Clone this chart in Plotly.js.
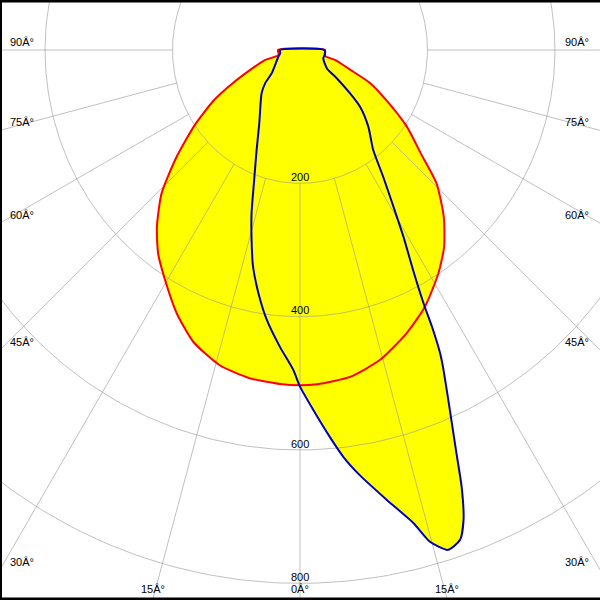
<!DOCTYPE html>
<html><head><meta charset="utf-8">
<script src="https://cdn.plot.ly/plotly-3.0.1.min.js"></script>
<style>html,body{margin:0;padding:0;background:#fff}#chart{width:600px;height:600px}</style>
</head><body><div id="chart"></div>
<script>
// Luminous intensity curves, angle in degrees from nadir (negative = left side)
const redAngles = [-90, -77, -74, -69, -63.8, -59.8, -54.5, -49.1, -44, -39, -34.9, -30.4, -25.1, -20.1, -14.3, -8.7, -3.4, 0, 2.9, 8.7, 14.5, 20.6, 26, 31.8, 36.2, 40.8, 45.7, 49.3, 54.5, 59.8, 64.8, 69, 74, 77, 90];
const redValues = [33, 33, 55, 76, 112, 149, 194, 245, 299, 341, 372, 400, 436, 466, 488, 498, 502, 503, 502, 496, 480, 454, 428, 394, 366, 330, 286, 240, 196, 150, 116, 78, 56, 38, 37];

const blueAngles = [-90, -80.6, -72.8, -50.5, -46.4, -41.5, -29.0, -23.4, -19.4, -16.5, -14.3, -12.2, -9.7, -7.0, -3.9, -1.2, 0, 2.1, 4.4, 6.1, 8.0, 10.9, 13.5, 14.8, 16.5, 18.1, 19.2, 20.3, 21.2, 22.6, 24.3, 24.8, 25.5, 26.0, 27.2, 29.0, 30.8, 33.3, 36.2, 41.7, 46.6, 49.1, 52.4, 55.6, 70.4, 78.7, 90];
const blueValues = [30, 30, 34, 55, 72, 87, 126, 164, 207, 256, 294, 333, 370, 408, 446, 480, 505, 540, 582, 614, 644, 687, 730, 763, 782, 773, 746, 699, 649, 585, 521, 501, 460, 423, 371, 320, 274, 227, 186, 154, 124, 99, 70, 49, 37, 38, 37];

// Grid
const radialTicks = [200, 400, 600, 800];
const radialLabels = ['200', '400', '600', '800'];
const spokeAngles = [-90, -75, -60, -45, -30, -15, 0, 15, 30, 45, 60, 75, 90];
const spokeLabels = ['90\u00C2\u00B0', '75\u00C2\u00B0', '60\u00C2\u00B0', '45\u00C2\u00B0', '30\u00C2\u00B0', '15\u00C2\u00B0', '0\u00C2\u00B0', '15\u00C2\u00B0', '30\u00C2\u00B0', '45\u00C2\u00B0', '60\u00C2\u00B0', '75\u00C2\u00B0', '90\u00C2\u00B0'];

const XR = [-450, 450], YR = [-825, 75];
const U = 1.5; // data units per pixel
const K = 0.956; // horizontal squeeze of the grid rings
const d2r = Math.PI / 180;
function toXY(angles, vals, close) {
  const x = [], y = [];
  for (let i = 0; i < angles.length; i++) {
    x.push(vals[i] * Math.sin(angles[i] * d2r));
    y.push(-vals[i] * Math.cos(angles[i] * d2r));
  }
  if (close) { x.push(x[0]); y.push(y[0]); }
  return {x, y};
}
const red = toXY(redAngles, redValues, true);
const blue = toXY(blueAngles, blueValues, true);

const gridColor = 'rgba(150,150,150,0.6)';
const cx = [], cy = [];
radialTicks.forEach(r => {
  for (let a = 0; a <= 360; a += 1) { cx.push(K * r * Math.sin(a * d2r)); cy.push(r * Math.cos(a * d2r)); }
  cx.push(null); cy.push(null);
});
const sx = [], sy = [];
spokeAngles.forEach(a => {
  const s = Math.sin(a * d2r), c = Math.cos(a * d2r);
  const r0 = 200 / Math.sqrt(s * s / (K * K) + c * c);
  sx.push(r0 * s, 1400 * s, null);
  sy.push(-r0 * c, -1400 * c, null);
});

const sm = 0.6;
const traces = [
  {x: red.x, y: red.y, mode: 'lines', fill: 'toself', fillcolor: '#ffff00', line: {width: 0, color: 'rgba(0,0,0,0)', shape: 'spline', smoothing: sm}, hoverinfo: 'skip'},
  {x: blue.x, y: blue.y, mode: 'lines', fill: 'toself', fillcolor: '#ffff00', line: {width: 0, color: 'rgba(0,0,0,0)', shape: 'spline', smoothing: sm}, hoverinfo: 'skip'},
  {x: cx, y: cy, mode: 'lines', line: {color: gridColor, width: 1}, hoverinfo: 'skip'},
  {x: sx, y: sy, mode: 'lines', line: {color: gridColor, width: 1}, hoverinfo: 'skip'},
  {x: red.x, y: red.y, mode: 'lines', line: {color: '#ff0000', width: 2, shape: 'spline', smoothing: sm}, hoverinfo: 'skip'},
  {x: blue.x, y: blue.y, mode: 'lines', line: {color: '#0000c0', width: 2, shape: 'spline', smoothing: sm}, hoverinfo: 'skip'}
];

const font = {family: 'Liberation Sans, Arial, sans-serif', size: 11, color: '#000'};
const ann = [];
radialTicks.forEach((r, i) => {
  ann.push({x: 0, y: -r + 6.5 * U, text: radialLabels[i], showarrow: false, xanchor: 'center', yanchor: 'middle', font});
});
spokeAngles.forEach((a, i) => {
  const s = Math.sin(a * d2r), c = Math.cos(a * d2r);
  let t = Math.abs(s) > 1e-9 ? XR[1] / Math.abs(s) : Infinity;
  let yEdge = -t * c;
  if (yEdge < YR[0]) {
    t = -YR[0] / c;
    ann.push({x: t * s, y: YR[0] + 11 * U, text: spokeLabels[i], showarrow: false, xanchor: 'center', yanchor: 'middle', font});
  } else {
    const left = a < 0;
    ann.push({x: left ? XR[0] + 8 * U : XR[1] - 9 * U, y: yEdge + 8 * U, text: spokeLabels[i], showarrow: false,
      xanchor: left ? 'left' : 'right', yanchor: 'middle', font});
  }
});

const layout = {
  width: 600, height: 600,
  margin: {l: 0, r: 0, t: 0, b: 0},
  paper_bgcolor: '#fff', plot_bgcolor: '#fff',
  showlegend: false,
  xaxis: {range: XR, visible: false, fixedrange: true},
  yaxis: {range: YR, visible: false, fixedrange: true},
  annotations: ann,
  shapes: [
    {type: 'line', xref: 'paper', yref: 'paper', x0: 0, x1: 1, y0: 1, y1: 1, line: {color: '#000', width: 5}, layer: 'above'},
    {type: 'line', xref: 'paper', yref: 'paper', x0: 0, x1: 0, y0: 0, y1: 1, line: {color: '#000', width: 4}, layer: 'above'},
    {type: 'line', xref: 'paper', yref: 'paper', x0: 0, x1: 1, y0: 0, y1: 0, line: {color: '#000', width: 5}, layer: 'above'}
  ]
};
Plotly.newPlot('chart', traces, layout, {staticPlot: true, displayModeBar: false});
</script>
</body></html>
